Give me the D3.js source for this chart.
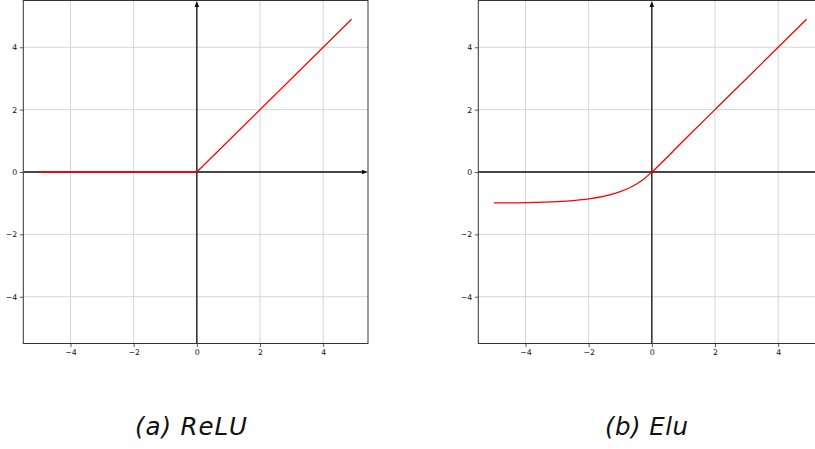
<!DOCTYPE html>
<html>
<head>
<meta charset="utf-8">
<script src="https://cdn.jsdelivr.net/npm/d3@7"></script>
<style>
  html, body { margin: 0; padding: 0; background: #fff; }
  svg { display: block; }
</style>
</head>
<body>
<svg id="chart" width="815" height="449"></svg>
<script>
// Axis limits and tick values shared by both panels
const xDomain = [-5.495, 5.42];
const yDomain = [-5.5, 5.5];
const tickValues = [-4, -2, 0, 2, 4];

// ReLU: flat at zero, then identity
const reluX = [-5, 0, 4.9];
const reluY = [0, 0, 4.9];

// ELU (alpha = 1): saturates near -1 on the left, identity on the right
const eluX = [-5, -4, -3, -2.5, -2, -1.5, -1, -0.75, -0.5, -0.25, 0, 1, 2, 3, 4, 4.9];
const eluY = [-0.993, -0.982, -0.950, -0.918, -0.865, -0.777, -0.632, -0.528, -0.393, -0.221, 0, 1, 2, 3, 4, 4.9];

const captions = ["(a) ReLU", "(b) Elu"];

const svg = d3.select("#chart");

const panels = [
  { left: 23.3, xs: reluX, ys: reluY, caption: captions[0], capX: 191, capLen: 112, curve: d3.curveLinear },
  { left: 478.3, xs: eluX, ys: eluY, caption: captions[1], capX: 646.5, capLen: 83, curve: d3.curveMonotoneX }
];

const plotW = 344.7, plotTop = 0.5, plotBottom = 343.5;

panels.forEach((p, i) => {
  const x = d3.scaleLinear().domain(xDomain).range([p.left, p.left + plotW]);
  const y = d3.scaleLinear().domain(yDomain).range([plotBottom, plotTop]);
  const g = svg.append("g");

  const clipId = "clip" + i;
  g.append("clipPath").attr("id", clipId)
    .append("rect").attr("x", p.left).attr("y", plotTop).attr("width", plotW).attr("height", plotBottom - plotTop);

  const inner = g.append("g").attr("clip-path", `url(#${clipId})`);

  // grid
  inner.selectAll(".gx").data(tickValues).join("line")
    .attr("x1", d => x(d)).attr("x2", d => x(d))
    .attr("y1", plotTop).attr("y2", plotBottom)
    .attr("stroke", "#d6d6d6").attr("stroke-width", 1);
  inner.selectAll(".gy").data(tickValues).join("line")
    .attr("y1", d => y(d)).attr("y2", d => y(d))
    .attr("x1", p.left).attr("x2", p.left + plotW)
    .attr("stroke", "#d6d6d6").attr("stroke-width", 1);

  // coordinate axes through the origin with arrowheads
  const x0 = x(0), y0 = y(0);
  const xEnd = x(xDomain[1]), yEnd = y(yDomain[1]);
  inner.append("line")
    .attr("x1", x(xDomain[0])).attr("x2", xEnd - 3)
    .attr("y1", y0).attr("y2", y0)
    .attr("stroke", "#111").attr("stroke-width", 1.3);
  inner.append("path")
    .attr("d", `M${xEnd},${y0} L${xEnd - 6},${y0 - 2.3} L${xEnd - 6},${y0 + 2.3} Z`)
    .attr("fill", "#111");
  inner.append("line")
    .attr("x1", x0).attr("x2", x0)
    .attr("y1", y(yDomain[0])).attr("y2", yEnd + 3)
    .attr("stroke", "#111").attr("stroke-width", 1.3);
  inner.append("path")
    .attr("d", `M${x0},${yEnd + 0.5} L${x0 - 2.3},${yEnd + 6.5} L${x0 + 2.3},${yEnd + 6.5} Z`)
    .attr("fill", "#111");

  // function curve
  const pts = p.xs.map((v, k) => [v, p.ys[k]]);
  inner.append("path")
    .datum(pts)
    .attr("d", d3.line().x(d => x(d[0])).y(d => y(d[1])).curve(p.curve))
    .attr("fill", "none").attr("stroke", "red").attr("stroke-width", 1.3);

  // frame
  g.append("rect")
    .attr("x", p.left).attr("y", plotTop).attr("width", plotW).attr("height", plotBottom - plotTop)
    .attr("fill", "none").attr("stroke", "#333").attr("stroke-width", 1);

  // axes with ticks
  const xAxis = d3.axisBottom(x).tickValues(tickValues).tickSizeInner(3.5).tickSizeOuter(0).tickPadding(2.5);
  const yAxis = d3.axisLeft(y).tickValues(tickValues).tickSizeInner(3.5).tickSizeOuter(0).tickPadding(2.5);

  const gx = g.append("g").attr("transform", `translate(0,${plotBottom})`).call(xAxis);
  const gy = g.append("g").attr("transform", `translate(${p.left},0)`).call(yAxis);
  [gx, gy].forEach(a => {
    a.select(".domain").remove();
    a.selectAll("line").attr("stroke", "#333").attr("stroke-width", 0.8);
    a.selectAll("text").attr("fill", "#111")
      .style("font-family", "DejaVu Sans").style("font-size", "7.8px");
  });

  // caption
  svg.append("text")
    .attr("x", p.capX).attr("y", 434.5)
    .attr("text-anchor", "middle")
    .attr("textLength", p.capLen).attr("lengthAdjust", "spacing")
    .style("font-family", "DejaVu Sans").style("font-style", "italic")
    .style("font-size", "24.5px").attr("fill", "#111")
    .text(p.caption);
});
</script>
</body>
</html>
